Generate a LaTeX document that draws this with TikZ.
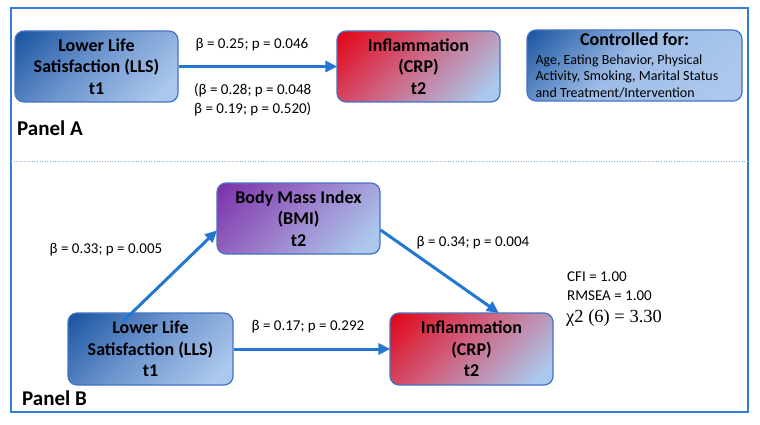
\documentclass[tikz,border=0pt]{standalone}
\usepackage{fontspec}
\setmainfont{Carlito}
\newfontfamily\serifchi{Liberation Serif}
\usetikzlibrary{arrows.meta,calc}
\definecolor{boxedge}{RGB}{68,114,196}
\definecolor{lightbl}{RGB}{172,200,236}
\definecolor{darkbl}{RGB}{22,82,158}
\definecolor{midbl}{RGB}{108,148,206}
\definecolor{ctrlmid}{RGB}{158,188,232}
\definecolor{redc}{RGB}{228,0,18}
\definecolor{pinkc}{RGB}{206,100,130}
\definecolor{purp}{RGB}{122,45,168}
\definecolor{midpurp}{RGB}{155,122,202}
\definecolor{arrowc}{RGB}{35,118,210}
\definecolor{framec}{RGB}{50,125,215}
% diagonal gradient: #1 at top-left, #2 in the middle, #3 at bottom-right; #4 = width+height
\newcommand\boxgradient[4]{%
  \foreach \gi in {0,...,79}{%
    \pgfmathsetmacro\gsA{\gi/80*#4}%
    \pgfmathsetmacro\gsB{(\gi+1)/80*#4+0.8}%
    \pgfmathsetmacro\gt{(\gi+0.5)/80}%
    \pgfmathsetmacro\gpa{min(100,\gt/0.45*100)}%
    \pgfmathsetmacro\gpb{max(0,min(100,(\gt-0.45)/0.45*100))}%
    \colorlet{gtmpa}{#2!\gpa!#1}%
    \colorlet{gtmpb}{#3!\gpb!gtmpa}%
    \fill[gtmpb] ($(path picture bounding box.north west)+(\gsA+4,4)$)
      -- ($(path picture bounding box.north west)+(\gsB+4,4)$)
      -- ($(path picture bounding box.north west)+(\gsB-#4,-#4)$)
      -- ($(path picture bounding box.north west)+(\gsA-#4,-#4)$) -- cycle;
  }%
}
\tikzset{
  box/.style={draw=boxedge, line width=1.2pt, rounded corners=9pt,
    minimum width=163pt, minimum height=71pt, inner sep=0pt, align=center,
    font=\bfseries\fontsize{18}{21.5}\selectfont},
  bluebox/.style={box, path picture={\boxgradient{darkbl}{midbl}{lightbl}{#1}}},
  redbox/.style={box, path picture={\boxgradient{redc}{pinkc}{lightbl}{#1}}},
  purpbox/.style={box, path picture={\boxgradient{purp}{midpurp}{lightbl}{#1}}},
  ctrlbox/.style={box, path picture={\boxgradient{darkbl}{ctrlmid}{lightbl}{#1}}},
  lbl/.style={inner sep=0pt, font=\fontsize{15}{19}\selectfont},
  panel/.style={inner sep=0pt, anchor=west, font=\bfseries\fontsize{21}{24}\selectfont},
  arr/.style={draw=arrowc, line width=3pt, -{Triangle[length=12pt,width=11pt]}, shorten >=-1pt},
}
\begin{document}
\begin{tikzpicture}[x=1pt,y=1pt]
\useasboundingbox (0,0) rectangle (760,-425);
% frame and separator
\draw[framec, line width=2pt] (11,-8) rectangle (748,-412);
\draw[framec!60, dotted, line width=0.6pt] (11,-161) -- (748,-161);

% Panel A
\node[bluebox=234] (llsA) at (96.5,-66.5) {Lower Life\\Satisfaction (LLS)\\t1};
\node[redbox=234] (infA) at (418.5,-66.5) {Inflammation\\(CRP)\\t2};
\node[ctrlbox=286, minimum width=215pt] (ctrl) at (634.5,-65.5) {\parbox{198pt}{\centering\bfseries\fontsize{18}{20}\selectfont Controlled for:\par\vspace{2pt}\raggedright\mdseries\fontsize{14}{16.8}\selectfont Age, Eating Behavior, Physical\\Activity, Smoking, Marital Status\\and Treatment/Intervention}};
\draw[arr] (llsA.east) -- (infA.west);
\node[lbl] (a1) at (252,-45) {β = 0.25; p = 0.046};
\node[lbl, anchor=west, align=left] (a2) at (194,-99.5) {(β = 0.28; p = 0.048\\β = 0.19; p = 0.520)};
\node[panel] (pA) at (17,-128) {Panel A};

% Panel B
\node[purpbox=234] (bmi) at (298.5,-218.5) {Body Mass Index\\(BMI)\\t2};
\node[bluebox=237, minimum width=165pt, minimum height=72pt] (llsB) at (150.5,-349) {Lower Life\\Satisfaction (LLS)\\t1};
\node[redbox=235, minimum height=72pt] (infB) at (471.5,-349) {Inflammation\\(CRP)\\t2};
\draw[arr] ([xshift=-27.5pt,yshift=-9pt]llsB.north) -- ([yshift=-12.5pt]bmi.west);
\draw[arr] ([yshift=-11.5pt]bmi.east) -- ([xshift=26.5pt]infB.north);
\draw[arr] (llsB.east) -- (infB.west);
\node[lbl] (b1) at (106,-250) {β = 0.33; p = 0.005};
\node[lbl] (b2) at (473,-243) {β = 0.34; p = 0.004};
\node[lbl] (b3) at (308,-327) {β = 0.17; p = 0.292};
\node[lbl, anchor=west] (cfi) at (567,-277) {CFI = 1.00};
\node[lbl, anchor=west] (rmsea) at (567,-296) {RMSEA = 1.00};
\node[inner sep=0pt, anchor=west, font=\serifchi\fontsize{18.5}{20}\selectfont] (chi) at (566,-318) {χ2 (6) = 3.30};
\node[panel] (pB) at (22,-398) {Panel B};
\end{tikzpicture}
\end{document}
